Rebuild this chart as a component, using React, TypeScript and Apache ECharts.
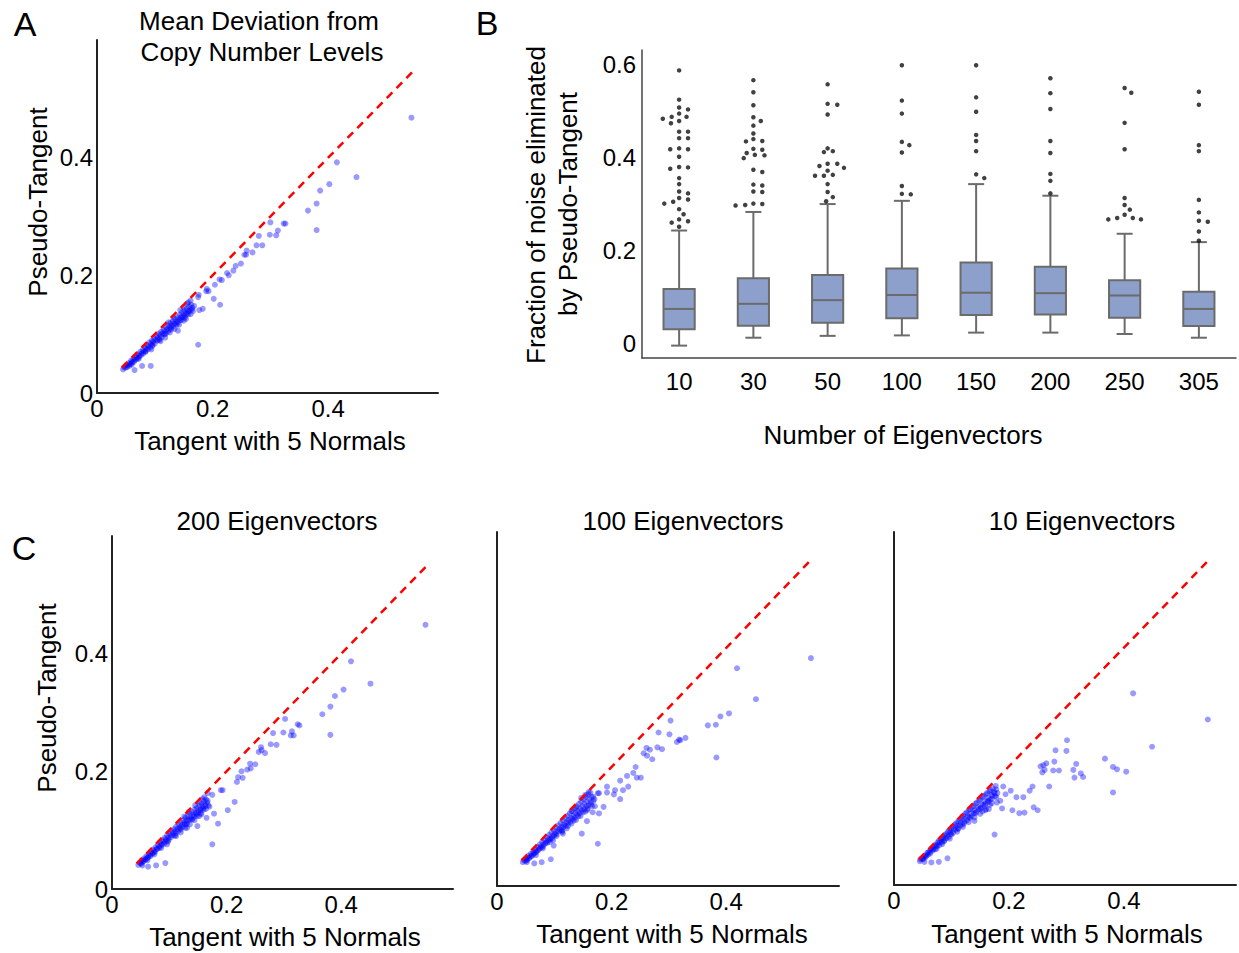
import React, { useEffect, useRef } from "react";
import * as echarts from "echarts";

const FONT = "'Liberation Sans', Arial, Helvetica, sans-serif";

// ---------- Scatter panels: [Tangent with 5 Normals, Pseudo-Tangent] ----------
const panelAOuter = [
  [0.544,0.468],[0.415,0.392],[0.449,0.367],[0.402,0.355],[0.386,0.344],[0.380,0.322],[0.365,0.310],[0.380,0.277],
  [0.300,0.290],[0.326,0.288],[0.323,0.288],[0.313,0.276],[0.299,0.269],[0.310,0.268],[0.280,0.267],[0.276,0.251],
  [0.286,0.251],[0.259,0.242],[0.269,0.239],[0.255,0.235],[0.258,0.235],[0.249,0.220],[0.240,0.216],[0.236,0.208],
  [0.225,0.204],[0.228,0.200],[0.212,0.193],[0.216,0.192],[0.204,0.184],[0.190,0.177],[0.189,0.173],[0.193,0.173],
  [0.176,0.167],[0.175,0.163],[0.202,0.160],[0.213,0.150],[0.183,0.143],[0.177,0.141],[0.175,0.082],[0.140,0.106],
  [0.093,0.046],[0.078,0.046],[0.065,0.039]
];
const panelACluster = [
  [0.045,0.040],[0.047,0.044],[0.049,0.043],[0.051,0.048],[0.053,0.047],[0.055,0.051],[0.057,0.049],[0.059,0.055],
  [0.061,0.053],[0.063,0.058],[0.065,0.056],[0.067,0.062],[0.069,0.060],[0.071,0.066],[0.073,0.063],[0.075,0.070],
  [0.077,0.067],[0.079,0.073],[0.081,0.071],[0.083,0.078],[0.085,0.075],[0.087,0.081],[0.089,0.079],[0.091,0.086],
  [0.093,0.083],[0.095,0.089],[0.097,0.087],[0.099,0.093],[0.101,0.090],[0.103,0.097],[0.105,0.094],[0.107,0.101],
  [0.109,0.098],[0.111,0.104],[0.113,0.101],[0.115,0.108],[0.117,0.105],[0.119,0.112],[0.121,0.108],[0.123,0.115],
  [0.125,0.111],[0.127,0.119],[0.129,0.115],[0.131,0.122],[0.133,0.118],[0.135,0.126],[0.137,0.121],[0.139,0.129],
  [0.141,0.125],[0.143,0.133],[0.145,0.128],[0.147,0.137],[0.149,0.132],[0.151,0.140],[0.153,0.136],[0.155,0.143],
  [0.157,0.139],[0.159,0.147],[0.161,0.142],[0.163,0.150],[0.165,0.145],[0.158,0.154],[0.162,0.157],
  [0.060,0.048],[0.072,0.058],[0.084,0.070],[0.096,0.080],[0.108,0.090],[0.118,0.100],[0.128,0.108],[0.138,0.116],
  [0.146,0.124],[0.152,0.128],[0.158,0.134],[0.144,0.141],[0.150,0.146],[0.156,0.152],[0.132,0.128],[0.124,0.120]
];
const panelABand = [
  [0.052,0.044],[0.056,0.046],[0.060,0.051],[0.064,0.053],[0.068,0.057],[0.072,0.060],[0.076,0.064],[0.080,0.067],
  [0.084,0.071],[0.088,0.074],[0.092,0.077],[0.096,0.082],[0.100,0.084],[0.104,0.089],[0.108,0.092],[0.112,0.095],
  [0.116,0.100],[0.120,0.102],[0.124,0.106],[0.128,0.111],[0.132,0.113],[0.136,0.118],[0.140,0.120],[0.144,0.124],
  [0.148,0.129],[0.152,0.131],[0.156,0.135],[0.160,0.139],[0.164,0.142],[0.168,0.148],
  [0.094,0.074],[0.110,0.088],[0.126,0.103],[0.142,0.116],[0.154,0.126],[0.162,0.134],[0.118,0.094],[0.134,0.109],
  [0.150,0.123],[0.166,0.139]
];

const c200Outer = [
  [0.547,0.449],[0.417,0.387],[0.451,0.349],[0.404,0.339],[0.389,0.328],[0.381,0.310],[0.367,0.297],[0.381,0.262],
  [0.302,0.289],[0.324,0.280],[0.327,0.278],[0.281,0.265],[0.299,0.266],[0.314,0.268],[0.312,0.261],[0.317,0.261],
  [0.277,0.246],[0.287,0.245],[0.260,0.241],[0.256,0.233],[0.267,0.231],[0.261,0.236],[0.241,0.213],[0.250,0.212],
  [0.242,0.205],[0.226,0.200],[0.236,0.203],[0.220,0.190],[0.228,0.189],[0.218,0.182],[0.190,0.168],[0.193,0.168],
  [0.214,0.148],[0.202,0.134],[0.185,0.111],[0.175,0.076],[0.175,0.160],[0.167,0.163],[0.161,0.156],[0.093,0.044],
  [0.077,0.040],[0.063,0.038],[0.053,0.040],[0.165,0.121],[0.149,0.107],[0.131,0.104],[0.178,0.128],[0.170,0.140]
];
const c200Cluster = [
  [0.046,0.041],[0.048,0.045],[0.050,0.044],[0.052,0.049],[0.054,0.047],[0.056,0.052],[0.058,0.050],[0.060,0.056],
  [0.062,0.053],[0.064,0.059],[0.066,0.057],[0.068,0.063],[0.070,0.060],[0.072,0.067],[0.074,0.064],[0.076,0.071],
  [0.078,0.068],[0.080,0.075],[0.082,0.072],[0.084,0.079],[0.086,0.076],[0.088,0.083],[0.090,0.080],[0.092,0.087],
  [0.094,0.084],[0.096,0.091],[0.098,0.087],[0.100,0.095],[0.102,0.091],[0.104,0.099],[0.106,0.095],[0.108,0.102],
  [0.110,0.098],[0.112,0.106],[0.114,0.102],[0.116,0.110],[0.118,0.105],[0.120,0.113],[0.122,0.109],[0.124,0.117],
  [0.126,0.112],[0.128,0.121],[0.130,0.116],[0.132,0.124],[0.134,0.119],[0.136,0.128],[0.138,0.122],[0.140,0.131],
  [0.142,0.126],[0.144,0.135],[0.146,0.129],[0.148,0.138],[0.150,0.133],[0.152,0.142],[0.154,0.136],[0.156,0.145],
  [0.158,0.140],[0.160,0.149],[0.162,0.144],[0.164,0.152],[0.166,0.147],
  [0.062,0.049],[0.074,0.059],[0.086,0.070],[0.098,0.081],[0.110,0.091],[0.120,0.101],[0.130,0.110],[0.140,0.118],
  [0.148,0.124],[0.155,0.129],[0.160,0.135],[0.145,0.142],[0.152,0.147],[0.158,0.153],[0.126,0.123],[0.134,0.131]
];
const c200Band = [
  [0.051,0.043],[0.055,0.047],[0.059,0.050],[0.063,0.054],[0.067,0.056],[0.071,0.061],[0.075,0.063],[0.079,0.068],
  [0.083,0.070],[0.087,0.075],[0.091,0.077],[0.095,0.081],[0.099,0.084],[0.103,0.088],[0.107,0.091],[0.111,0.095],
  [0.115,0.098],[0.119,0.103],[0.123,0.105],[0.127,0.110],[0.131,0.112],[0.135,0.117],[0.139,0.119],[0.143,0.123],
  [0.147,0.127],[0.151,0.130],[0.155,0.134],[0.159,0.137],[0.163,0.141],[0.167,0.150],
  [0.096,0.076],[0.112,0.090],[0.128,0.104],[0.144,0.117],[0.156,0.127],[0.164,0.136],[0.120,0.096],[0.136,0.110],
  [0.152,0.124],[0.168,0.142]
];

const c100Outer = [
  [0.548,0.383],[0.419,0.366],[0.452,0.314],[0.405,0.290],[0.390,0.285],[0.368,0.270],[0.382,0.271],[0.383,0.216],
  [0.303,0.278],[0.282,0.258],[0.301,0.255],[0.314,0.242],[0.318,0.246],[0.329,0.249],[0.320,0.245],[0.280,0.233],
  [0.288,0.230],[0.261,0.232],[0.267,0.229],[0.256,0.223],[0.262,0.219],[0.271,0.213],[0.242,0.200],[0.227,0.185],
  [0.238,0.190],[0.244,0.182],[0.251,0.182],[0.215,0.177],[0.229,0.167],[0.220,0.161],[0.192,0.167],[0.206,0.161],
  [0.204,0.154],[0.215,0.146],[0.192,0.157],[0.176,0.156],[0.178,0.156],[0.186,0.133],[0.178,0.122],[0.167,0.124],
  [0.171,0.134],[0.157,0.109],[0.148,0.088],[0.176,0.071],[0.094,0.045],[0.078,0.040],[0.065,0.038],[0.052,0.040]
];
const c100Cluster = [
  [0.045,0.040],[0.047,0.044],[0.049,0.042],[0.051,0.047],[0.053,0.045],[0.055,0.051],[0.057,0.048],[0.059,0.054],
  [0.061,0.051],[0.063,0.058],[0.065,0.055],[0.067,0.062],[0.069,0.058],[0.071,0.066],[0.073,0.062],[0.075,0.070],
  [0.077,0.066],[0.079,0.074],[0.081,0.069],[0.083,0.078],[0.085,0.073],[0.087,0.082],[0.089,0.077],[0.091,0.086],
  [0.093,0.080],[0.095,0.090],[0.097,0.084],[0.099,0.094],[0.101,0.088],[0.103,0.098],[0.105,0.092],[0.107,0.102],
  [0.109,0.096],[0.111,0.106],[0.113,0.099],[0.115,0.110],[0.117,0.103],[0.119,0.114],[0.121,0.107],[0.123,0.118],
  [0.125,0.111],[0.127,0.122],[0.129,0.114],[0.131,0.126],[0.133,0.118],[0.135,0.130],[0.137,0.122],[0.139,0.134],
  [0.141,0.126],[0.143,0.138],[0.145,0.130],[0.147,0.142],[0.149,0.134],[0.151,0.146],[0.153,0.138],[0.155,0.150],
  [0.157,0.142],[0.159,0.154],[0.161,0.146],[0.163,0.157],[0.165,0.150],
  [0.068,0.052],[0.080,0.063],[0.092,0.074],[0.104,0.084],[0.114,0.093],[0.124,0.101],[0.134,0.110],[0.142,0.117],
  [0.150,0.124],[0.158,0.130],[0.164,0.137],[0.168,0.143],[0.147,0.148],[0.154,0.153],[0.160,0.158],[0.130,0.126],
  [0.138,0.131],[0.115,0.088],[0.099,0.068]
];
const c100Band = [
  [0.052,0.043],[0.056,0.047],[0.060,0.050],[0.064,0.054],[0.068,0.057],[0.072,0.060],[0.076,0.064],[0.080,0.066],
  [0.084,0.071],[0.088,0.073],[0.092,0.078],[0.096,0.080],[0.100,0.085],[0.104,0.087],[0.108,0.092],[0.112,0.094],
  [0.116,0.099],[0.120,0.101],[0.124,0.106],[0.128,0.108],[0.132,0.113],[0.136,0.115],[0.140,0.120],[0.144,0.122],
  [0.148,0.127],[0.152,0.129],[0.156,0.134],[0.160,0.136],[0.164,0.141],[0.168,0.150],
  [0.098,0.077],[0.114,0.091],[0.130,0.105],[0.146,0.118],[0.158,0.128],[0.166,0.134],[0.122,0.097],[0.138,0.111],
  [0.154,0.125],[0.170,0.146]
];

const c10Outer = [
  [0.416,0.323],[0.546,0.279],[0.449,0.233],[0.367,0.213],[0.381,0.199],[0.388,0.195],[0.404,0.191],[0.381,0.156],
  [0.301,0.244],[0.281,0.227],[0.300,0.226],[0.317,0.204],[0.312,0.194],[0.325,0.188],[0.329,0.182],[0.314,0.181],
  [0.279,0.208],[0.265,0.205],[0.260,0.202],[0.255,0.200],[0.277,0.193],[0.287,0.193],[0.258,0.190],[0.262,0.194],
  [0.270,0.166],[0.241,0.166],[0.236,0.159],[0.225,0.148],[0.213,0.148],[0.203,0.159],[0.194,0.153],[0.190,0.166],
  [0.177,0.167],[0.185,0.142],[0.179,0.139],[0.188,0.129],[0.206,0.126],[0.218,0.121],[0.227,0.122],[0.243,0.131],
  [0.250,0.126],[0.167,0.135],[0.159,0.126],[0.140,0.108],[0.175,0.085],[0.093,0.045],[0.078,0.039],[0.065,0.038],
  [0.053,0.039]
];
const c10Cluster = [
  [0.045,0.040],[0.046,0.043],[0.048,0.045],[0.050,0.044],[0.052,0.048],[0.054,0.050],[0.056,0.049],[0.058,0.054],
  [0.060,0.056],[0.062,0.055],[0.064,0.060],[0.066,0.062],[0.068,0.060],[0.070,0.066],[0.072,0.068],[0.074,0.066],
  [0.076,0.072],[0.078,0.074],[0.080,0.072],[0.082,0.078],[0.084,0.080],[0.086,0.078],[0.088,0.084],[0.090,0.086],
  [0.092,0.083],[0.094,0.090],[0.096,0.092],[0.098,0.089],[0.100,0.096],[0.102,0.098],[0.104,0.094],[0.106,0.102],
  [0.108,0.104],[0.110,0.100],[0.112,0.108],[0.114,0.110],[0.116,0.105],[0.118,0.114],[0.120,0.116],[0.122,0.111],
  [0.124,0.120],[0.126,0.122],[0.128,0.116],[0.130,0.126],[0.132,0.128],[0.134,0.121],[0.136,0.131],[0.138,0.133],
  [0.140,0.126],[0.142,0.137],[0.144,0.139],[0.146,0.131],[0.148,0.143],[0.150,0.145],[0.152,0.136],[0.154,0.148],
  [0.156,0.150],[0.158,0.141],[0.160,0.153],[0.162,0.155],[0.164,0.146],[0.166,0.158],[0.168,0.160],[0.170,0.152],
  [0.172,0.163],
  [0.074,0.061],[0.088,0.075],[0.100,0.085],[0.112,0.095],[0.122,0.104],[0.132,0.113],[0.142,0.121],[0.150,0.128],
  [0.158,0.133],[0.164,0.140],[0.170,0.145],[0.176,0.150],[0.174,0.157],[0.178,0.161],[0.165,0.128],[0.154,0.124]
];
const c10Band = [
  [0.051,0.044],[0.055,0.047],[0.059,0.051],[0.063,0.053],[0.067,0.058],[0.071,0.060],[0.075,0.065],[0.079,0.067],
  [0.083,0.072],[0.087,0.074],[0.091,0.079],[0.095,0.081],[0.099,0.086],[0.103,0.088],[0.107,0.093],[0.111,0.095],
  [0.115,0.100],[0.119,0.102],[0.123,0.107],[0.127,0.109],[0.131,0.114],[0.135,0.116],[0.139,0.121],[0.143,0.123],
  [0.147,0.128],[0.151,0.130],[0.155,0.135],[0.159,0.137],[0.163,0.142],[0.167,0.144],[0.171,0.150],[0.175,0.155],
  [0.140,0.114],[0.150,0.120],[0.160,0.128],[0.170,0.138],[0.180,0.155],[0.178,0.148],[0.130,0.106],[0.120,0.098],
  [0.110,0.090],[0.097,0.078],[0.084,0.069]
];

const diagonal = [0.043, 0.548];
const scatterTicks = [0, 0.2, 0.4];
const scatterTickLabels = ["0", "0.2", "0.4"];

// ---------- Panel B: box plots ----------
const eigenCategories = ["10", "30", "50", "100", "150", "200", "250", "305"];
// [lower whisker, Q1, median, Q3, upper whisker]
const boxStats = [
  [-0.005, 0.030, 0.074, 0.117, 0.243],
  [0.012, 0.038, 0.085, 0.140, 0.283],
  [0.016, 0.044, 0.093, 0.147, 0.300],
  [0.017, 0.054, 0.104, 0.161, 0.307],
  [0.023, 0.061, 0.109, 0.174, 0.343],
  [0.023, 0.062, 0.108, 0.165, 0.318],
  [0.020, 0.055, 0.103, 0.136, 0.236],
  [0.012, 0.037, 0.074, 0.111, 0.218]
];
// outliers per category: [value, horizontal spread in category units]
const outliers10 = [
  [0.588,0],[0.525,0],[0.508,0],[0.504,0.12],[0.495,0],[0.488,-0.10],[0.488,0.10],[0.484,-0.22],[0.479,0],
  [0.474,-0.11],[0.456,0],[0.456,0.12],[0.442,0],[0.442,0.12],[0.420,0],[0.418,-0.12],[0.418,0.12],[0.402,0],
  [0.380,0],[0.379,0.12],[0.376,-0.12],[0.356,0],[0.343,0],[0.327,0],[0.323,0.12],[0.313,0],[0.310,0.12],
  [0.305,-0.08],[0.301,-0.20],[0.289,0],[0.278,0.06],[0.267,0],[0.263,0.12],[0.260,-0.10],[0.251,0]
];
const outliers30 = [
  [0.567,0],[0.541,0],[0.513,0],[0.487,0],[0.479,0.10],[0.469,0],[0.452,0],[0.440,0],[0.435,-0.10],[0.436,0.12],
  [0.419,0],[0.417,0.12],[0.410,-0.09],[0.406,0.02],[0.405,0.15],[0.399,-0.13],[0.374,0],[0.369,0.12],[0.342,0],
  [0.340,0.12],[0.327,0],[0.326,0.12],[0.301,0],[0.300,0.12],[0.298,-0.11],[0.297,-0.24]
];
const outliers50 = [
  [0.558,0],[0.516,0],[0.514,0.13],[0.493,0],[0.420,0],[0.412,-0.05],[0.414,0.07],[0.382,-0.11],[0.387,0],
  [0.387,0.13],[0.378,0.22],[0.372,0],[0.361,-0.17],[0.361,-0.05],[0.363,0.07],[0.343,0],[0.326,0],[0.315,0.07],
  [0.306,-0.02]
];
const outliers100 = [[0.599,0],[0.523,0],[0.495,0],[0.434,0],[0.427,0.10],[0.411,0],[0.339,0],[0.322,0],[0.321,0.12]];
const outliers150 = [[0.599,0],[0.530,0],[0.499,0],[0.449,0],[0.436,0],[0.414,0],[0.364,0],[0.356,0.11]];
const outliers200 = [[0.571,0],[0.539,0],[0.505,0],[0.436,0],[0.410,0],[0.365,0],[0.350,0],[0.323,0]];
const outliers250 = [
  [0.550,0],[0.540,0.09],[0.475,0],[0.418,0],[0.313,0],[0.298,0],[0.288,0.07],[0.277,0],[0.267,-0.22],
  [0.270,-0.10],[0.270,0.11],[0.267,0.22]
];
const outliers305 = [
  [0.542,0],[0.514,0],[0.427,0],[0.414,0],[0.309,0],[0.282,0],[0.264,0],[0.262,0.12],[0.241,0],[0.221,0]
];
const outlierLists = [outliers10, outliers30, outliers50, outliers100, outliers150, outliers200, outliers250, outliers305];
const boxTicks = [0, 0.2, 0.4, 0.6];
const boxTickLabels = ["0", "0.2", "0.4", "0.6"];

const tickFormatter = (ticks: number[], labels: string[]) => (v: number) => {
  const i = ticks.findIndex((t) => Math.abs(t - v) < 1e-6);
  return i < 0 ? "" : labels[i];
};

const AXIS_COLOR = "#222";

function scatterX(gridIndex: number, max: number) {
  return {
    gridIndex, type: "value", min: 0, max, interval: 0.2,
    axisLine: { show: true, onZero: false, lineStyle: { color: AXIS_COLOR, width: 2 } },
    axisTick: { show: false }, splitLine: { show: false },
    axisLabel: { margin: 3, color: "#000", fontSize: 24, fontFamily: FONT,
      formatter: tickFormatter(scatterTicks, scatterTickLabels), showMaxLabel: false },
  };
}
function scatterY(gridIndex: number, max: number, showLabels: boolean) {
  return {
    gridIndex, type: "value", min: 0, max, interval: 0.2,
    axisLine: { show: true, onZero: false, lineStyle: { color: AXIS_COLOR, width: 2 } },
    axisTick: { show: false }, splitLine: { show: false },
    axisLabel: { show: showLabels, margin: 4, color: "#000", fontSize: 24, fontFamily: FONT,
      formatter: tickFormatter(scatterTicks, scatterTickLabels) },
  };
}
const dotStyle = { color: "rgba(0,0,255,0.5)" };
function scatterSeries(xIdx: number, yIdx: number, pts: number[][]) {
  return {
    type: "scatter", xAxisIndex: xIdx, yAxisIndex: yIdx, data: pts,
    symbolSize: 6, itemStyle: dotStyle, silent: true,
  };
}
function diagSeries(xIdx: number, yIdx: number) {
  return {
    type: "line", xAxisIndex: xIdx, yAxisIndex: yIdx,
    data: diagonal.map((d) => [d, d]), symbol: "none", silent: true, z: 5,
    lineStyle: { color: "#ff0000", width: 2.5, type: [8, 6] },
  };
}
function label(text: string, x: number, y: number, size: number, rotate = false) {
  return {
    type: "text", x, y, rotation: rotate ? Math.PI / 2 : 0, silent: true,
    style: { text, fill: "#000", font: `${size}px ${FONT}`, align: "center", verticalAlign: "middle" },
  };
}

export default function App() {
  const ref = useRef<HTMLDivElement>(null);
  useEffect(() => {
    document.body.style.margin = "0";
    if (!ref.current) return;
    const chart = echarts.init(ref.current, undefined, { renderer: "svg" });
    const boxData = boxStats.map((s, i) => [i, ...s]);
    const outlierData = outlierLists.flatMap((list, i) => list.map(([v, dx]) => [i + dx, v]));
    const boxLine = { stroke: "#6b6b6b", lineWidth: 2 };

    chart.setOption({
      animation: false,
      backgroundColor: "#fff",
      textStyle: { fontFamily: FONT },
      grid: [
        { left: 97, top: 40, width: 341, height: 353 },
        { left: 642, top: 50, width: 594, height: 308 },
        { left: 112, top: 536, width: 341, height: 353 },
        { left: 497, top: 532, width: 342, height: 354 },
        { left: 894, top: 532, width: 342, height: 353 },
      ],
      xAxis: [
        scatterX(0, 0.59),
        {
          gridIndex: 1, type: "category", data: eigenCategories, boundaryGap: true,
          axisLine: { show: true, onZero: false, lineStyle: { color: "#444", width: 1.5 } },
          axisTick: { show: false }, splitLine: { show: false },
          axisLabel: { margin: 11, color: "#000", fontSize: 24, fontFamily: FONT, interval: 0 },
        },
        { gridIndex: 1, type: "value", min: -0.5, max: 7.5, show: false },
        scatterX(2, 0.595),
        scatterX(3, 0.597),
        scatterX(4, 0.595),
      ],
      yAxis: [
        scatterY(0, 0.6, true),
        {
          gridIndex: 1, type: "value", min: -0.0317, max: 0.632, splitNumber: 6,
          axisLine: { show: true, onZero: false, lineStyle: { color: "#444", width: 1.5 } },
          axisTick: { show: false }, splitLine: { show: false },
          axisLabel: { margin: 6, color: "#000", fontSize: 24, fontFamily: FONT,
            formatter: tickFormatter(boxTicks, boxTickLabels) },
        },
        scatterY(2, 0.6, true),
        scatterY(3, 0.595, false),
        scatterY(4, 0.595, false),
      ],
      series: [
        scatterSeries(0, 0, [...panelAOuter, ...panelACluster, ...panelABand]),
        diagSeries(0, 0),
        {
          type: "custom", xAxisIndex: 1, yAxisIndex: 1, data: boxData, silent: true,
          encode: { x: 0, y: [1, 2, 3, 4, 5] },
          renderItem: (_p: any, api: any) => {
            const i = api.value(0);
            const lo = api.coord([i, api.value(1)]);
            const q1 = api.coord([i, api.value(2)]);
            const md = api.coord([i, api.value(3)]);
            const q3 = api.coord([i, api.value(4)]);
            const hi = api.coord([i, api.value(5)]);
            const cx = lo[0];
            const bw = api.size([1, 0])[0] * 0.42;
            const cap = 16;
            return {
              type: "group",
              children: [
                { type: "line", shape: { x1: cx, y1: hi[1], x2: cx, y2: q3[1] }, style: boxLine },
                { type: "line", shape: { x1: cx, y1: q1[1], x2: cx, y2: lo[1] }, style: boxLine },
                { type: "line", shape: { x1: cx - cap / 2, y1: hi[1], x2: cx + cap / 2, y2: hi[1] }, style: boxLine },
                { type: "line", shape: { x1: cx - cap / 2, y1: lo[1], x2: cx + cap / 2, y2: lo[1] }, style: boxLine },
                { type: "rect", shape: { x: cx - bw / 2, y: q3[1], width: bw, height: q1[1] - q3[1] },
                  style: { fill: "#8DA0CB", stroke: "#6b6b6b", lineWidth: 2 } },
                { type: "line", shape: { x1: cx - bw / 2, y1: md[1], x2: cx + bw / 2, y2: md[1] }, style: boxLine },
              ],
            };
          },
        },
        {
          type: "scatter", xAxisIndex: 2, yAxisIndex: 1, data: outlierData, silent: true,
          symbolSize: 4.5, itemStyle: { color: "#111" },
        },
        scatterSeries(3, 2, [...c200Outer, ...c200Cluster, ...c200Band]),
        diagSeries(3, 2),
        scatterSeries(4, 3, [...c100Outer, ...c100Cluster, ...c100Band]),
        diagSeries(4, 3),
        scatterSeries(5, 4, [...c10Outer, ...c10Cluster, ...c10Band]),
        diagSeries(5, 4),
      ],
      graphic: [
        label("A", 25, 24, 34),
        label("Mean Deviation from", 259, 21, 26),
        label("Copy Number Levels", 262, 52, 26),
        label("Pseudo-Tangent", 38, 202, 26, true),
        label("Tangent with 5 Normals", 270, 441, 26),
        label("B", 487, 23, 34),
        label("Fraction of noise eliminated", 536, 205, 26, true),
        label("by Pseudo-Tangent", 568, 204, 26, true),
        label("Number of Eigenvectors", 903, 435, 26),
        label("C", 24, 548, 34),
        label("200 Eigenvectors", 277, 521, 26),
        label("100 Eigenvectors", 683, 521, 26),
        label("10 Eigenvectors", 1082, 521, 26),
        label("Pseudo-Tangent", 47, 698, 26, true),
        label("Tangent with 5 Normals", 285, 937, 26),
        label("Tangent with 5 Normals", 672, 934, 26),
        label("Tangent with 5 Normals", 1067, 934, 26),
      ],
    });
    return () => chart.dispose();
  }, []);
  return <div ref={ref} style={{ width: 1239, height: 953 }} />;
}
